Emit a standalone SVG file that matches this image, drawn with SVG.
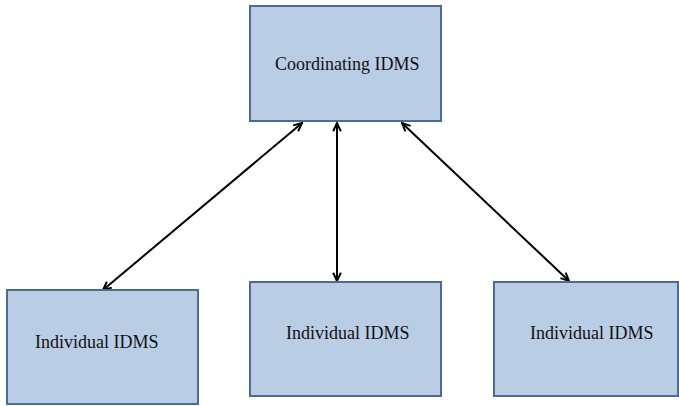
<svg xmlns="http://www.w3.org/2000/svg" width="679" height="406" viewBox="0 0 679 406">
<defs>
<style>
.box{fill:#B9CDE5;stroke:#4A6C9B;stroke-width:2}
.lbl{font-size:18px;fill:#111}
.con{stroke:#000;stroke-width:2;fill:none;marker-start:url(#ah);marker-end:url(#ah)}
</style>
<marker id="ah" viewBox="0 0 10 10" refX="9" refY="5" markerWidth="11" markerHeight="11" orient="auto-start-reverse" markerUnits="userSpaceOnUse">
<path d="M1.5,1.5 L9,5 L1.5,8.5" fill="none" stroke="#000" stroke-width="1.8"/>
</marker>
</defs>
<rect width="679" height="406" fill="#fff"/>
<g id="connectors">
<line class="con" x1="302" y1="123" x2="103" y2="290"/>
<line class="con" x1="337" y1="123" x2="337" y2="281"/>
<line class="con" x1="402" y1="123" x2="569" y2="281"/>
</g>
<g id="coordinating">
<rect class="box" x="250" y="6" width="191" height="115"/>
<text class="lbl" font-family="Liberation Serif, Times New Roman, DejaVu Serif, serif" x="275" y="70">Coordinating IDMS</text>
</g>
<g id="individual1">
<rect class="box" x="7" y="290" width="191" height="114"/>
<text class="lbl" font-family="Liberation Serif, Times New Roman, DejaVu Serif, serif" x="35" y="348">Individual IDMS</text>
</g>
<g id="individual2">
<rect class="box" x="250" y="282" width="191" height="114"/>
<text class="lbl" font-family="Liberation Serif, Times New Roman, DejaVu Serif, serif" x="286" y="339">Individual IDMS</text>
</g>
<g id="individual3">
<rect class="box" x="494" y="282" width="184" height="114"/>
<text class="lbl" font-family="Liberation Serif, Times New Roman, DejaVu Serif, serif" x="530" y="339">Individual IDMS</text>
</g>
</svg>
